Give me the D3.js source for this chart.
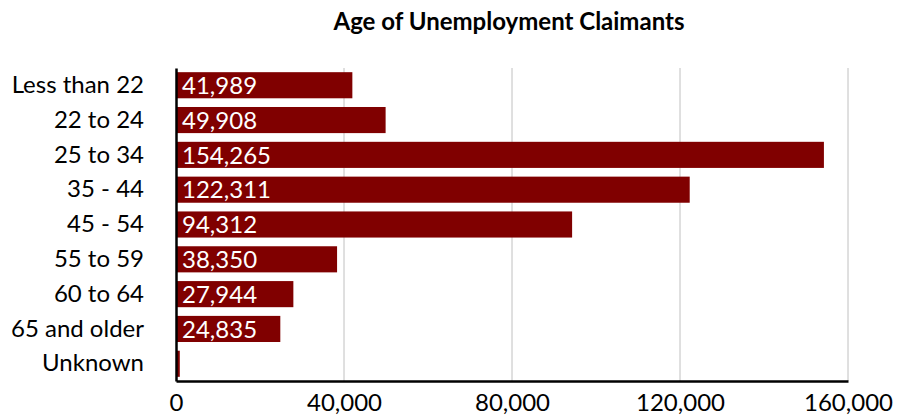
<!DOCTYPE html>
<html>
<head>
<meta charset="utf-8">
<script src="https://cdn.jsdelivr.net/npm/d3@7"></script>
<style>
  body { margin: 0; background: #fff; }
  svg text { font-family: Lato, "Open Sans", sans-serif; }
</style>
</head>
<body>
<svg width="904" height="416"></svg>
<script>
var categories = [ 'Less than 22', '22 to 24', '25 to 34', '35 - 44', '45 - 54',
                   '55 to 59', '60 to 64', '65 and older', 'Unknown' ],
    claimants = [ 41989, 49908, 154265, 122311, 94312, 38350, 27944, 24835, 900 ],
    tickValues = [ 0, 40000, 80000, 120000, 160000 ];

var svg = d3.select( 'svg' ),
    plotLeft = 176, plotRight = 848, plotTop = 68, plotBottom = 381,
    fmt = d3.format( ',' );

var x = d3.scaleLinear().domain( [ 0, 160000 ] ).range( [ plotLeft, plotRight ] ),
    y = d3.scaleBand().domain( categories ).range( [ plotTop, plotBottom ] ).paddingInner( 0.25 ).paddingOuter( 0.12 );

svg.append( 'text' )
    .text( 'Age of Unemployment Claimants' )
    .attr( 'x', 509 ).attr( 'y', 30 )
    .attr( 'text-anchor', 'middle' )
    .style( 'font-weight', 'bold' )
    .style( 'font-size', '24px' );

// gridlines
svg.append( 'g' )
    .selectAll( 'line' )
    .data( tickValues.slice( 1 ) )
    .join( 'line' )
    .attr( 'x1', d => x( d ) ).attr( 'x2', d => x( d ) )
    .attr( 'y1', plotTop ).attr( 'y2', plotBottom )
    .attr( 'stroke', '#c0c0c0' ).attr( 'stroke-width', 1 );

// bars
svg.append( 'g' )
    .selectAll( 'rect' )
    .data( claimants )
    .join( 'rect' )
    .attr( 'x', x( 0 ) )
    .attr( 'y', ( d, i ) => y( categories[ i ] ) )
    .attr( 'width', d => x( d ) - x( 0 ) )
    .attr( 'height', y.bandwidth() )
    .attr( 'fill', '#800000' );

// labels inside bars
svg.append( 'g' )
    .selectAll( 'text' )
    .data( claimants.filter( d => d > 5000 ) )
    .join( 'text' )
    .text( d => fmt( d ) )
    .attr( 'x', x( 0 ) + 6 )
    .attr( 'y', ( d, i ) => y( categories[ i ] ) + y.bandwidth() / 2 )
    .attr( 'dy', '0.36em' )
    .attr( 'fill', '#fff' )
    .style( 'font-size', '24px' );

// x axis
var xAxis = svg.append( 'g' )
    .attr( 'transform', 'translate(0,' + plotBottom + ')' )
    .call( d3.axisBottom( x ).tickValues( tickValues ).tickFormat( fmt ).tickSize( 0 ).tickPadding( 13 ) );
xAxis.select( '.domain' ).attr( 'stroke', '#000' ).attr( 'stroke-width', 2.5 );
xAxis.selectAll( 'text' ).style( 'font-size', '24px' ).attr( 'fill', '#000' );

// y axis
var yAxis = svg.append( 'g' )
    .attr( 'transform', 'translate(' + plotLeft + ',0)' )
    .call( d3.axisLeft( y ).tickSize( 0 ).tickPadding( 32 ) );
yAxis.select( '.domain' ).attr( 'stroke', '#000' ).attr( 'stroke-width', 2.5 );
yAxis.selectAll( 'text' ).style( 'font-size', '24px' ).attr( 'fill', '#000' );
</script>
</body>
</html>
